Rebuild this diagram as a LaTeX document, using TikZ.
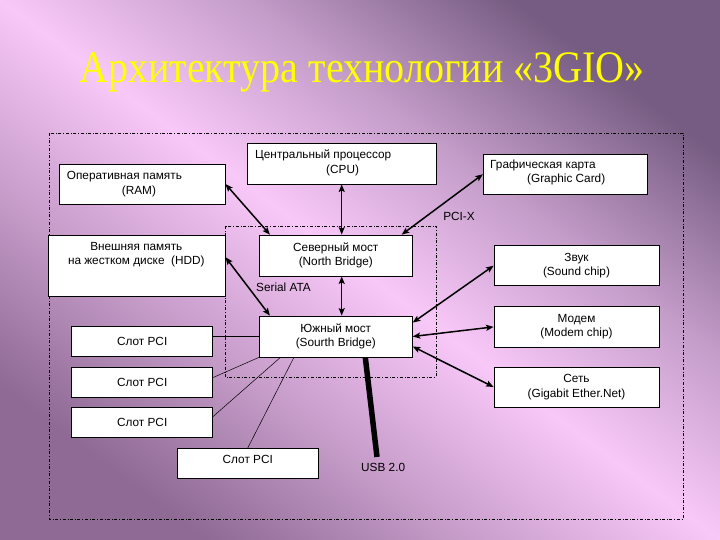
\documentclass[tikz,border=0pt]{standalone}
\usepackage{fontspec}
\usetikzlibrary{arrows.meta}
\setmainfont{Liberation Sans}
\newfontfamily\titlefont{Liberation Serif}
\definecolor{bgpink}{RGB}{248,200,248}
\definecolor{bgdark}{RGB}{118,92,130}
\definecolor{bgmid}{RGB}{142,106,148}
\definecolor{titleyellow}{RGB}{255,255,0}
\pgfdeclareverticalshading{bgshade}{100bp}{color(0bp)=(bgmid); color(25bp)=(bgmid);
  color(38bp)=(bgmid!45!bgpink); color(50bp)=(bgpink); color(62bp)=(bgdark!40!bgpink);
  color(75bp)=(bgdark); color(100bp)=(bgdark)}

\begin{document}
\begin{tikzpicture}[x=1pt,y=-1pt,
		box/.style={draw=black, fill=white, line width=0.8pt, inner sep=0pt, align=center,
			font=\fontsize{11.8}{14.5}\selectfont},
		txt/.style={inner sep=0pt, align=left, font=\fontsize{11.8}{14.5}\selectfont},
		link/.style={{Stealth[length=7.5pt,width=6pt,inset=1.5pt]}-{Stealth[length=7.5pt,width=6pt,inset=1.5pt]}, line width=1.5pt},
		wire/.style={line width=0.5pt},
		frame/.style={dash dot, line width=0.7pt}]
		\shade [shading=bgshade, shading angle=-36.87] (0,0) rectangle (720,540);
		\useasboundingbox (0,0) rectangle (720,540);
		% title
		\node [text=titleyellow, anchor=base, xscale=0.89, inner sep=0pt,
			font=\titlefont\fontsize{45}{45}\selectfont] (title) at (362,83) {Архитектура технологии «3GIO»};
		% dash-dot frames
		\draw [frame] (49,133) rectangle (683,519);
		\draw [frame] (225,226) rectangle (436,377);
		% boxes
		\node [box, minimum width=165.7pt, minimum height=40pt] (ram) at (142.2,184) {};
		\node [txt, anchor=west] (ramtxt) at (66.7,184.2) {Оперативная память\\\hspace*{55pt}(RAM)};
		\node [box, minimum width=188.7pt, minimum height=40.7pt] (cpu) at (341.7,163.7) {};
		\node [txt, anchor=west] (cputxt) at (255,162.8) {Центральный процессор\\\hspace*{71pt}(CPU)};
		\node [box, minimum width=164.4pt, minimum height=39.7pt] (gc) at (565.5,174.2) {};
		\node [txt, anchor=west] (gctxt) at (490,172.3) {Графическая карта\\\hspace*{37pt}(Graphic Card)};
		\node [box, minimum width=176.7pt, minimum height=61pt] (hdd) at (136.7,266.2) {};
		\node [txt, align=center] (hddtxt) at (136.3,254.7) {Внешняя память\\на жестком диске\ \ (HDD)};
		\node [box, minimum width=153pt, minimum height=41pt] (nb) at (335.8,255.5) {Северный мост\\(North Bridge)};
		\node [box, minimum width=153pt, minimum height=41pt] (sb) at (335.8,336.5) {Южный мост\\(Sourth Bridge)};
		\node [box, minimum width=165pt, minimum height=40pt] (sound) at (576.5,265.7) {Звук\\(Sound chip)};
		\node [box, minimum width=165pt, minimum height=40.3pt] (modem) at (576.5,326.9) {Модем\\(Modem chip)};
		\node [box, minimum width=165pt, minimum height=40pt] (net) at (576.5,387) {Сеть\\(Gigabit Ether.Net)};
		\node [box, minimum width=141pt, minimum height=30.7pt] (slot1) at (142.2,341.3) {Слот PCI};
		\node [box, minimum width=141pt, minimum height=29.6pt] (slot2) at (142.2,382.5) {Слот PCI};
		\node [box, minimum width=141pt, minimum height=30.4pt] (slot3) at (142.2,422.5) {Слот PCI};
		\node [box, minimum width=141pt, minimum height=30pt] (slot4) at (247.8,463.3) {};
		\node [txt] (slot4txt) at (247.8,459.5) {Слот PCI};
		% labels
		\node [txt] (pcix) at (459,216) {PCI-X};
		\node [txt] (sata) at (283.5,287) {Serial ATA};
		\coordinate (usbend) at (377,457);
		\node [txt, anchor=north west] (usb) at (361,463) {USB 2.0};
		% buses
		\draw [link] (ram.east) -- ([xshift=11pt]nb.north west);
		\draw [link] (cpu.south) -- (cpu.south |- nb.north);
		\draw [link] (gc.west) -- ([xshift=-11pt]nb.north east);
		\draw [link] ([yshift=9pt]hdd.east) -- ([xshift=11pt]sb.north west);
		\draw [link] (cpu.south |- nb.south) -- (cpu.south |- sb.north);
		\draw [link] (sound.west) -- ([yshift=-7pt]sb.north east);
		\draw [link] (modem.west) -- (sb.east);
		\draw [link] (net.west) -- ([yshift=-10pt]sb.east);
		% pci slots
		\draw [wire] (sb.west) -- (sb.west -| slot1.east);
		\draw [wire] ([yshift=5pt]slot2.east) -- (sb.south west);
		\draw [wire] ([yshift=6pt]slot3.east) -- ([xshift=21.5pt]sb.south west);
		\draw [wire] (slot4.north) -- ([xshift=35pt]sb.south west);
		% usb
		\draw [line width=5.5pt] ([xshift=29.5pt]sb.south) -- (usbend);
	\end{tikzpicture}
\end{document}
